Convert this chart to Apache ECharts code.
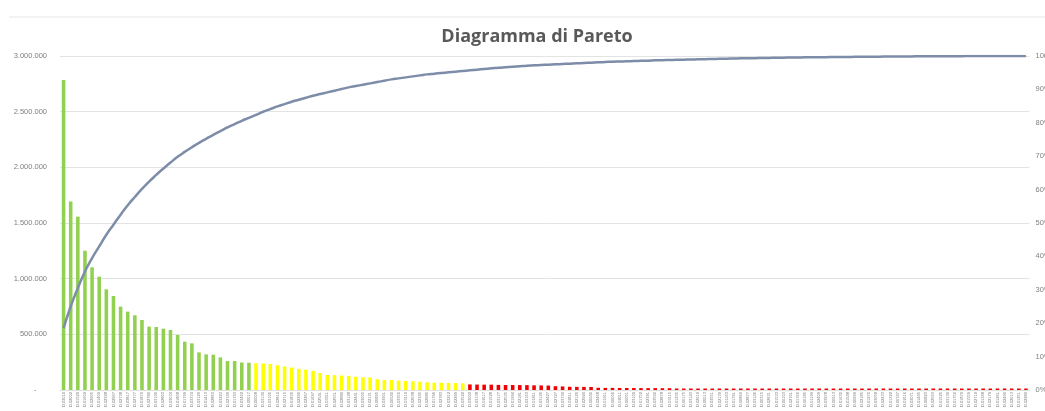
<!DOCTYPE html>
<html>
<head>
<meta charset="utf-8">
<script src="https://cdn.jsdelivr.net/npm/echarts@6/dist/echarts.min.js"></script>
<style>
html,body{margin:0;padding:0;background:#fff;}
#chart{width:1045px;height:411px;}
</style>
</head>
<body>
<div id="chart"></div>
<script>
const chartTitle = 'Diagramma di Pareto';

const categories = [
'D.03014','D.02002','D.01529','D.01609','D.02905','D.01409','D.02328','D.02967','D.02738','D.03817',
'D.02777','D.01870','D.02784','D.03190','D.02803','D.03074','D.01808','D.01799','D.03374','D.03129',
'D.01413','D.02863','D.03223','D.02749','D.01793','D.03462','D.00017','D.00008','D.03134','D.03106',
'D.02810','D.02715','D.01830','D.02290','D.02267','D.01697','D.02541','D.03311','D.02551','D.02884',
'D.03128','D.02441','D.03005','D.02131','D.00895','D.03901','D.00540','D.03350','D.03119','D.02038',
'D.02345','D.02980','D.01796','D.02783','D.03212','D.02299','D.03522','D.03002','D.03138','D.02117',
'D.01528','D.03177','D.02535','D.01994','D.02181','D.03163','D.01811','D.03126','D.02427','D.02727',
'D.03734','D.02611','D.02120','D.02924','D.00040','D.02468','D.01911','D.00006','D.02011','D.00051',
'D.03109','D.01752','D.02391','D.03590','D.02878','D.03115','D.01235','D.00175','D.03143','D.02619',
'D.00013','D.03551','D.02139','D.01163','D.01791','D.00864','D.02877','D.03140','D.00315','D.02631',
'D.01533','D.00103','D.02701','D.01760','D.00185','D.01199','D.02409','D.03278','D.00913','D.01630',
'D.01548','D.00999','D.02185','D.01270','D.03058','D.02433','D.01322','D.00747','D.02116','D.03071',
'D.01445','D.00823','D.02563','D.01525','D.03139','D.01750','D.01879','D.01559','D.02719','D.01348',
'D.02179','D.01261','D.02490','D.02013','D.01251','D.02284'
];

// Class A (green)
const classA = [
2784000,1692000,1557000,1251000,1102000,1018000,904000,844000,749000,704000,
671000,629000,569000,566000,551000,539000,494000,434000,419000,338000,
320000,317000,293000,260000,260000,247000,245000
];
// Class B (yellow)
const classB = [
240000,238000,233000,222000,212000,202000,190000,182000,172000,152000,
135000,133000,130000,127000,120000,114000,112000,96000,90000,89000,
84000,81000,78000,75000,69000,66000,65000,64000,62000,60000
];
// Class C (red)
const classC = [
50000,49000,48000,48000,46000,45000,45000,44000,44000,42000,
41000,40000,34000,32000,29000,28000,28000,27000,20000,19000,
19000,18000,18000,18000,17000,17000,17000,16000,16000,10000,
10000,9000,9000,9000,9000,9000,8000,8000,8000,8000,
8000,8000,7000,7000,7000,7000,7000,6000,6000,6000,
6000,6000,6000,5000,5000,5000,5000,5000,5000,5000,
5000,5000,4000,4000,4000,4000,4000,4000,4000,4000,
4000,3000,3000,3000,3000,3000,3000,3000,3000
];

// Cumulative percentage (line, right axis)
const cumulativePct = [
18.5,25,30.5,35.5,39.5,43,46.5,49.5,52.5,55.3,
57.8,60.2,62.4,64.4,66.3,68.1,69.8,71.3,72.7,74.0,
75.2,76.4,77.5,78.6,79.6,80.6,81.5,82.4,83.3,84.1,
84.9,85.6,86.3,86.9,87.5,88.1,88.6,89.1,89.6,90.1,
90.6,91.0,91.4,91.8,92.2,92.6,93.0,93.3,93.6,93.9,
94.2,94.5,94.7,94.9,95.1,95.3,95.5,95.7,95.9,96.1,
96.3,96.5,96.65,96.8,96.95,97.1,97.2,97.3,97.4,97.5,
97.6,97.7,97.8,97.9,98.0,98.1,98.2,98.3,98.35,98.4,
98.5,98.55,98.6,98.7,98.75,98.8,98.85,98.9,98.95,99.0,
99.05,99.1,99.15,99.2,99.25,99.3,99.33,99.36,99.4,99.43,
99.46,99.5,99.53,99.56,99.6,99.62,99.64,99.66,99.68,99.7,
99.72,99.74,99.76,99.78,99.8,99.82,99.84,99.86,99.87,99.88,
99.9,99.91,99.92,99.93,99.94,99.95,99.96,99.97,99.97,99.98,
99.98,99.99,99.99,100,100,100
];

const leftMax = 3000000, leftStep = 500000;
const rightMax = 100, rightStep = 10;

const nA = classA.length, nB = classB.length;
const dataA = categories.map((c, i) => i < nA ? classA[i] : '-');
const dataB = categories.map((c, i) => (i >= nA && i < nA + nB) ? classB[i - nA] : '-');
const dataC = categories.map((c, i) => i >= nA + nB ? classC[i - nA - nB] : '-');

function itFmt(v) {
  if (v === 0) return '-     ';
  return String(v).replace(/\B(?=(\d{3})+(?!\d))/g, '.');
}

const chart = echarts.init(document.getElementById('chart'), null, {renderer: 'canvas'});
chart.setOption({
  animation: false,
  backgroundColor: '#ffffff',
  title: {
    text: chartTitle,
    left: 532, top: 23, textAlign: 'center',
    textStyle: {fontFamily: 'Open Sans', fontWeight: 'bold', fontSize: 18, color: '#595959'}
  },
  graphic: [{
    type: 'line', shape: {x1: 9, y1: 17, x2: 1045, y2: 17},
    style: {stroke: '#e6e6e6', lineWidth: 1}, silent: true
  }],
  grid: {left: 60, right: 15.5, top: 56, bottom: 21, containLabel: false, outerBoundsMode: 'none'},
  xAxis: {
    type: 'category',
    data: categories,
    axisTick: {show: false},
    axisLine: {show: true, lineStyle: {color: '#e0e0e0'}},
    axisLabel: {interval: 0, rotate: 90, fontSize: 4, color: '#777777', margin: 2, fontFamily: 'Liberation Sans'}
  },
  yAxis: [{
    type: 'value', min: 0, max: leftMax, interval: leftStep,
    axisLine: {show: false}, axisTick: {show: false},
    splitLine: {lineStyle: {color: '#e3e3e3', width: 1}},
    axisLabel: {formatter: itFmt, fontSize: 7.5, color: '#7f7f7f', margin: 13, fontFamily: 'Liberation Sans'}
  }, {
    type: 'value', min: 0, max: rightMax, interval: rightStep,
    axisLine: {show: false}, axisTick: {show: false},
    splitLine: {show: false},
    axisLabel: {formatter: v => v + '%', fontSize: 7.5, color: '#7f7f7f', margin: 6, fontFamily: 'Liberation Sans'}
  }],
  series: [{
    type: 'bar', name: 'A', data: dataA, barWidth: '50%', barGap: '-100%',
    itemStyle: {color: '#92D050'}, barMinHeight: 1.5
  }, {
    type: 'bar', name: 'B', data: dataB, barWidth: '50%', barGap: '-100%',
    itemStyle: {color: '#FFFF00'}, barMinHeight: 1.5
  }, {
    type: 'bar', name: 'C', data: dataC, barWidth: '50%', barGap: '-100%',
    itemStyle: {color: '#F00000'}, barMinHeight: 1.5
  }, {
    type: 'line', name: 'Cumulata', yAxisIndex: 1, data: cumulativePct,
    showSymbol: false, symbol: 'none', smooth: true,
    lineStyle: {color: '#7D8CA8', width: 2.5}
  }]
});
</script>
</body>
</html>
